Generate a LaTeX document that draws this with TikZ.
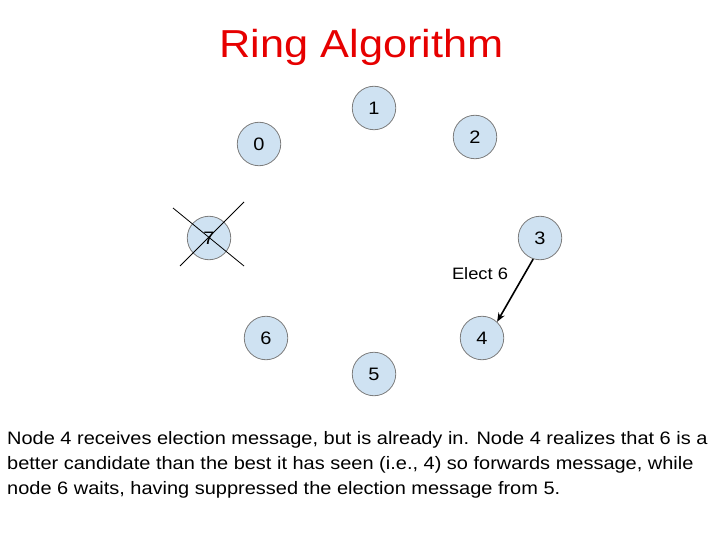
\documentclass[tikz,border=0pt]{standalone}
\usepackage{graphicx}
\usepackage{fontspec}
\setmainfont{Liberation Sans}
\usetikzlibrary{arrows.meta}
\definecolor{nodefill}{RGB}{207,226,242}
\definecolor{nodeborder}{RGB}{125,125,125}
\definecolor{titlered}{RGB}{230,0,0}
\newcommand\hstretch[1]{\scalebox{1.11}[1]{#1}}
\tikzset{
  ringnode/.style={circle, minimum size=43.5pt, inner sep=0pt, fill=nodefill, draw=nodeborder, line width=0.8pt, font=\fontsize{18}{20}\selectfont},
  bodyline/.style={anchor=base west, inner sep=0pt, font=\fontsize{18}{25}\selectfont},
  msgarrow/.style={-{Stealth[length=9pt,width=7pt]}, line width=1.6pt, black},
  crossline/.style={line width=0.8pt, black}
}
\begin{document}
\begin{tikzpicture}[x=1pt,y=-1pt]
\useasboundingbox (0,0) rectangle (720,540);
\node[anchor=base, inner sep=0pt, text=titlered, font=\fontsize{39}{44}\selectfont] (title) at (361.5,58) {\hstretch{Ring Algorithm}};
\node[ringnode] (n1) at (374,108) {\hstretch{1}};
\node[ringnode] (n0) at (259,144) {\hstretch{0}};
\node[ringnode] (n2) at (475,137) {\hstretch{2}};
\node[ringnode] (n7) at (209,238) {\hstretch{7}};
\node[ringnode] (n3) at (540,238) {\hstretch{3}};
\node[ringnode] (n6) at (266,338) {\hstretch{6}};
\node[ringnode] (n4) at (482,338) {\hstretch{4}};
\node[ringnode] (n5) at (374,374) {\hstretch{5}};
\coordinate (c1a) at (173,208);
\coordinate (c1b) at (244,266);
\coordinate (c2a) at (244,202);
\coordinate (c2b) at (180,266);
\draw[crossline] (c1a) -- (c1b);
\draw[crossline] (c2a) -- (c2b);
\node[anchor=base, inner sep=0pt, font=\fontsize{16.5}{20}\selectfont] (elect) at (480,279) {\hstretch{Elect 6}};
\draw[msgarrow] (n3.252) -- (n4.47);
\node[bodyline] (l1) at (7,444) {\hstretch{Node 4 receives election message, but is already in. Node 4 realizes that 6 is a}};
\node[bodyline] (l2) at (7,469) {\hstretch{better candidate than the best it has seen (i.e., 4) so forwards message, while}};
\node[bodyline] (l3) at (7,494) {\hstretch{node 6 waits, having suppressed the election message from 5.}};
\end{tikzpicture}
\end{document}
